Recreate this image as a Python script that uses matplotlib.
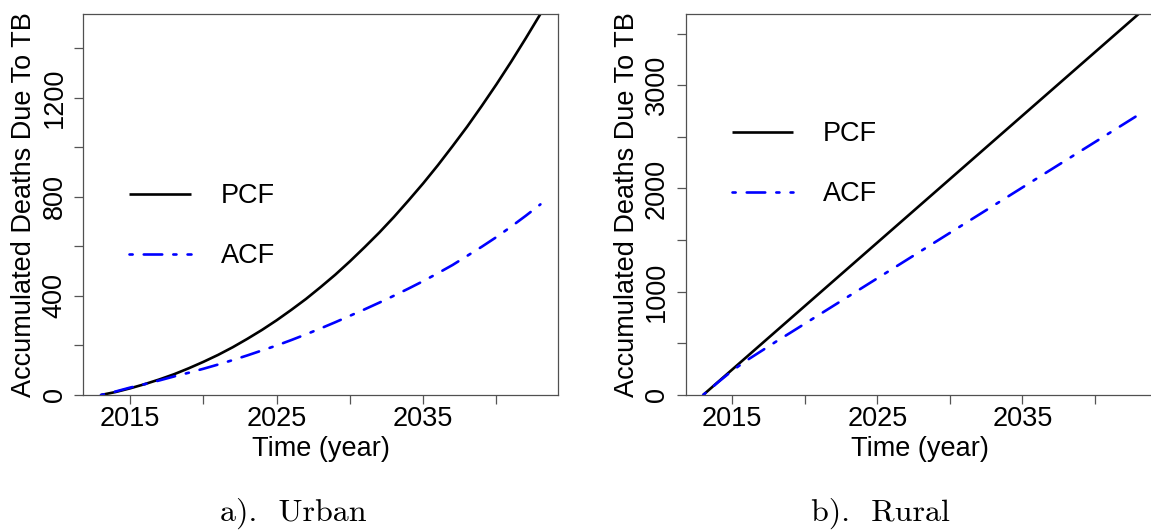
import matplotlib
matplotlib.use("Agg")
import matplotlib.pyplot as plt

# ---------------- data ----------------
years = list(range(2013, 2044))

urban_pcf = [0, 12, 27, 44, 63, 84, 108, 134, 162, 193, 227, 263, 302, 344, 388,
             436, 486, 540, 597, 656, 719, 786, 855, 928, 1005, 1084, 1168, 1255,
             1346, 1441, 1539]
urban_acf = [0, 14, 30, 44, 59, 75, 90, 106, 123, 141, 160, 180, 200, 222, 245,
             269, 294, 320, 346, 373, 401, 430, 460, 492, 525, 562, 599, 638,
             680, 724, 770]

rural_pcf = [0, 123, 246, 369, 492, 615, 738, 861, 984, 1107, 1230, 1353, 1476,
             1599, 1722, 1845, 1968, 2091, 2214, 2337, 2460, 2583, 2706, 2829,
             2952, 3075, 3198, 3321, 3444, 3567, 3690]
rural_acf = [0, 120, 235, 335, 425, 515, 602, 690, 778, 866, 954, 1042, 1130,
             1218, 1306, 1394, 1482, 1570, 1658, 1746, 1834, 1922, 2010, 2098,
             2186, 2274, 2362, 2450, 2538, 2626, 2714]

x_ticks = [2015, 2020, 2025, 2030, 2035, 2040]
x_ticklabels = ["2015", "", "2025", "", "2035", ""]
urban_yticks = [0, 200, 400, 600, 800, 1000, 1200, 1400]
urban_yticklabels = ["0", "", "400", "", "800", "", "1200", ""]
rural_yticks = [0, 500, 1000, 1500, 2000, 2500, 3000, 3500]
rural_yticklabels = ["0", "", "1000", "", "2000", "", "3000", ""]

series_labels = ["PCF", "ACF"]
xlabel = "Time (year)"
ylabel = "Accumulated Deaths Due To TB"
captions = ["a).  Urban", "b).  Rural"]

# ---------------- styling ----------------
SANS = ["Liberation Sans", "DejaVu Sans"]
plt.rcParams["font.family"] = SANS
FS = 19.5
W, H = 1151, 531

fig = plt.figure(figsize=(W / 100, H / 100), dpi=100)


def box(l, t, r, b):
    return [l / W, 1 - b / H, (r - l) / W, (b - t) / H]


ax1 = fig.add_axes(box(83.3, 14, 558, 395))
ax2 = fig.add_axes(box(685.7, 14, 1156, 395))

dotdash = (0, (1.2, 4.2, 7.0, 4.2))


def style(ax, pcf, acf, yticks, yticklabels, leg_top_px):
    ax.plot(years, pcf, color="black", lw=1.9, label=series_labels[0],
            solid_capstyle="butt")
    ax.plot(years, acf, color="#0000ff", lw=1.9, linestyle=dotdash,
            label=series_labels[1], dash_capstyle="round")
    span = years[-1] - years[0]
    ax.set_xlim(years[0] - 0.04 * span, years[-1] + 0.04 * span)
    ax.set_ylim(0, max(pcf))
    ax.set_xticks(x_ticks)
    ax.set_xticklabels(x_ticklabels)
    ax.set_yticks(yticks)
    ax.set_yticklabels(yticklabels, rotation=90, va="center")
    ax.tick_params(axis="both", direction="out", length=6.3, width=0.9,
                   color="#555555", labelsize=FS)
    ax.tick_params(axis="x", pad=1.5)
    ax.tick_params(axis="y", pad=5)
    for s in ax.spines.values():
        s.set_color("#505050")
        s.set_linewidth(0.9)
    # legend
    bb = ax.get_position()
    ax_h_px = bb.height * H
    ax_w_px = bb.width * W
    ax.legend(loc="upper left", frameon=False, fontsize=FS,
              bbox_to_anchor=(46 / ax_w_px, (395 - leg_top_px) / ax_h_px),
              bbox_transform=ax.transAxes, borderaxespad=0, borderpad=0,
              handlelength=2.26, handletextpad=1.12, labelspacing=1.27)
    return ax


style(ax1, urban_pcf, urban_acf, urban_yticks, urban_yticklabels, 183)
style(ax2, rural_pcf, rural_acf, rural_yticks, rural_yticklabels, 121)

# axis labels
for ax in (ax1, ax2):
    bb = ax.get_position()
    cx = bb.x0 + bb.width / 2
    fig.text(cx if ax is ax1 else (685.7 + 1154.5) / 2 / W, 1 - 456 / H, xlabel,
             ha="center", va="baseline", fontsize=FS)
    fig.text((bb.x0 * W - 59) / W, bb.y0 + bb.height / 2, ylabel,
             rotation=90, ha="center", va="center", fontsize=FS)

# captions
fig.text(293 / W, 1 - 521 / H, captions[0], ha="center", va="baseline",
         fontsize=23, family=["cmr10", "DejaVu Serif"])
fig.text(880 / W, 1 - 521 / H, captions[1], ha="center", va="baseline",
         fontsize=23, family=["cmr10", "DejaVu Serif"])

fig.savefig("out.png", dpi=100)
